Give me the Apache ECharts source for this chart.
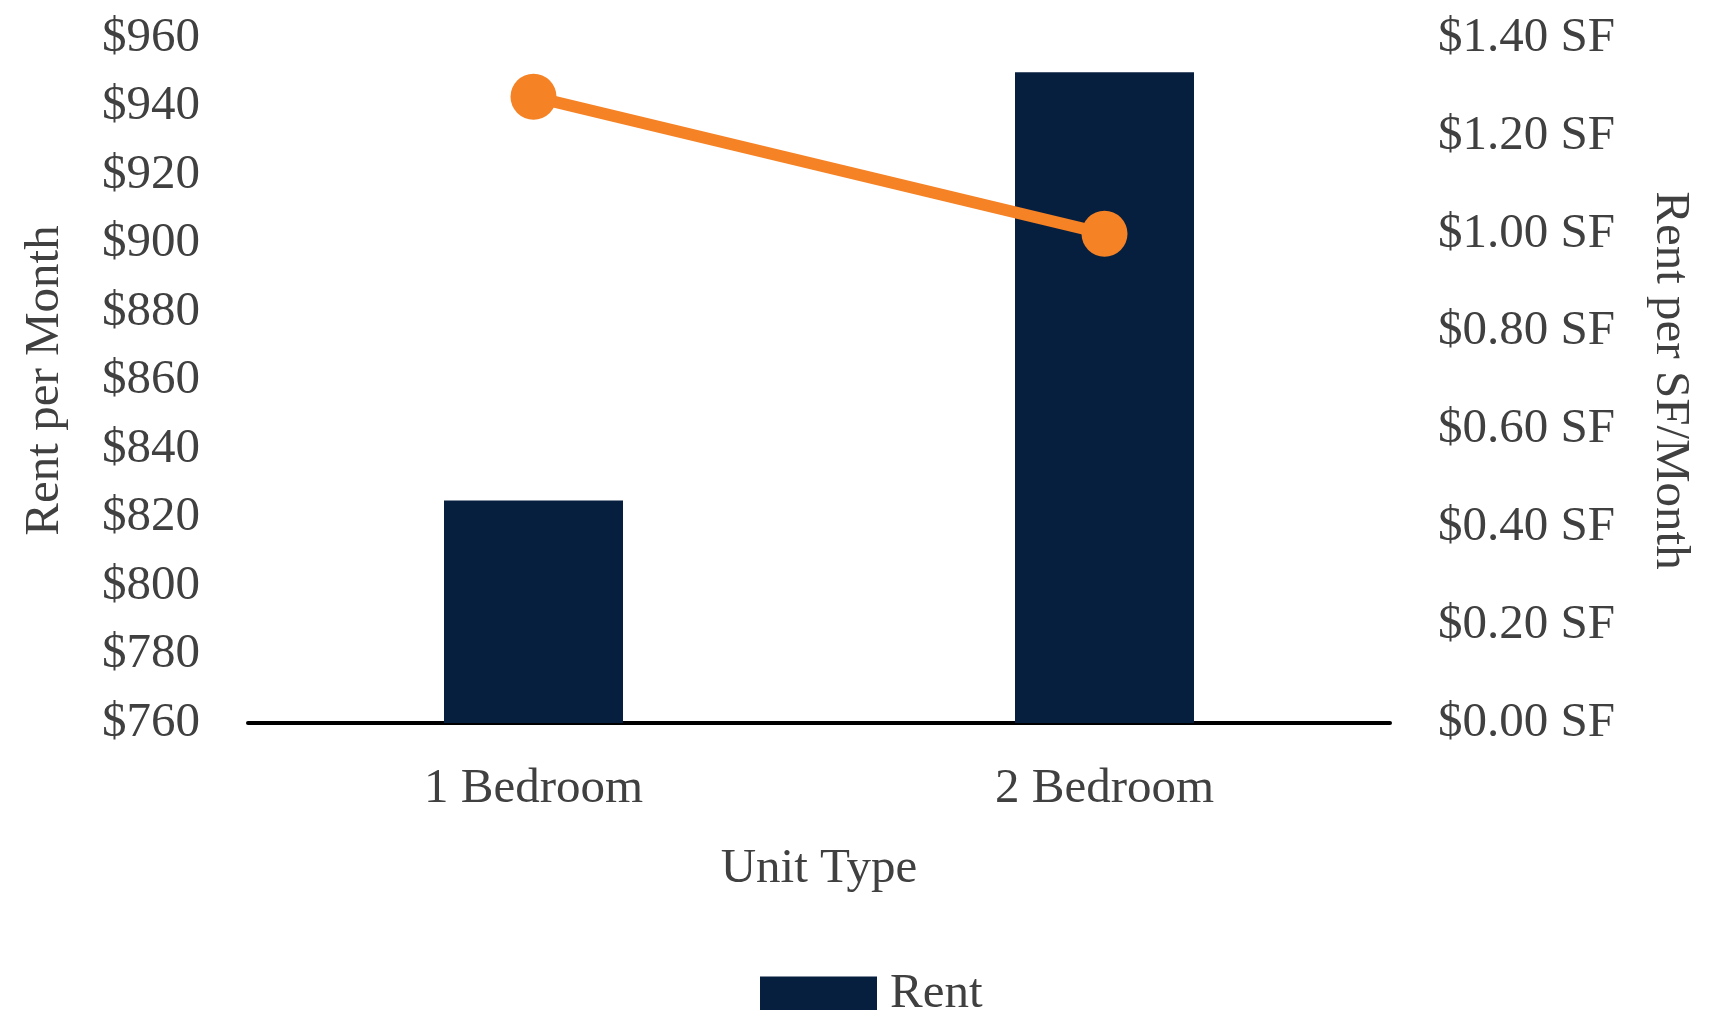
<!DOCTYPE html>
<html>
<head>
<meta charset="utf-8">
<script src="https://cdn.jsdelivr.net/npm/echarts@6/dist/echarts.min.js"></script>
<style>
html,body{margin:0;padding:0;background:#fff;}
#chart{width:1715px;height:1010px;}
</style>
</head>
<body>
<div id="chart"></div>
<script>
const categories = ['1 Bedroom', '2 Bedroom'];
const rentValues = [825, 950];
const rentPerSF = [1.28, 1.00];
const leftTicks = { min: 760, max: 960, step: 20 };
const rightTicks = { min: 0, max: 1.4, step: 0.2 };

const FONT = '"Liberation Serif", "DejaVu Serif", serif';
const TXT = '#404040';

const chart = echarts.init(document.getElementById('chart'));
chart.setOption({
  animation: false,
  backgroundColor: '#ffffff',
  grid: { left: 248, right: 325, top: 38, bottom: 287 },
  legend: {
    data: [{ name: 'Rent', icon: 'rect' }],
    left: 755,
    top: 965,
    itemWidth: 117,
    itemHeight: 36,
    textStyle: { fontFamily: FONT, fontSize: 49, color: TXT, padding: [0, 0, 0, 8] }
  },
  xAxis: {
    type: 'category',
    data: categories,
    name: 'Unit Type',
    nameLocation: 'middle',
    nameGap: 122,
    nameTextStyle: { fontFamily: FONT, fontSize: 49, color: TXT },
    axisLine: { lineStyle: { color: '#000', width: 4 } },
    axisTick: { show: false },
    axisLabel: { fontFamily: FONT, fontSize: 49, color: TXT, margin: 42 }
  },
  yAxis: [
    {
      type: 'value',
      min: leftTicks.min, max: leftTicks.max, interval: leftTicks.step,
      name: 'Rent per Month',
      nameLocation: 'middle',
      nameGap: 178,
      nameTextStyle: { fontFamily: FONT, fontSize: 49, color: TXT },
      axisLine: { show: false },
      axisTick: { show: false },
      splitLine: { show: false },
      axisLabel: { fontFamily: FONT, fontSize: 49, color: TXT, margin: 48, formatter: v => '$' + v }
    },
    {
      type: 'value',
      min: rightTicks.min, max: rightTicks.max, interval: rightTicks.step,
      name: 'Rent per SF/Month',
      nameLocation: 'middle',
      nameRotate: -90,
      nameGap: 255,
      nameTextStyle: { fontFamily: FONT, fontSize: 49, color: TXT },
      axisLine: { show: false },
      axisTick: { show: false },
      splitLine: { show: false },
      axisLabel: { fontFamily: FONT, fontSize: 49, color: TXT, margin: 48, formatter: v => '$' + v.toFixed(2) + ' SF' }
    }
  ],
  series: [
    {
      name: 'Rent',
      type: 'bar',
      data: rentValues,
      barWidth: 179,
      itemStyle: { color: '#061F3F' }
    },
    {
      name: 'Rent per SF',
      type: 'line',
      yAxisIndex: 1,
      data: rentPerSF,
      symbol: 'circle',
      symbolSize: 46,
      lineStyle: { color: '#F58225', width: 12 },
      itemStyle: { color: '#F58225' }
    }
  ]
});
</script>
</body>
</html>
